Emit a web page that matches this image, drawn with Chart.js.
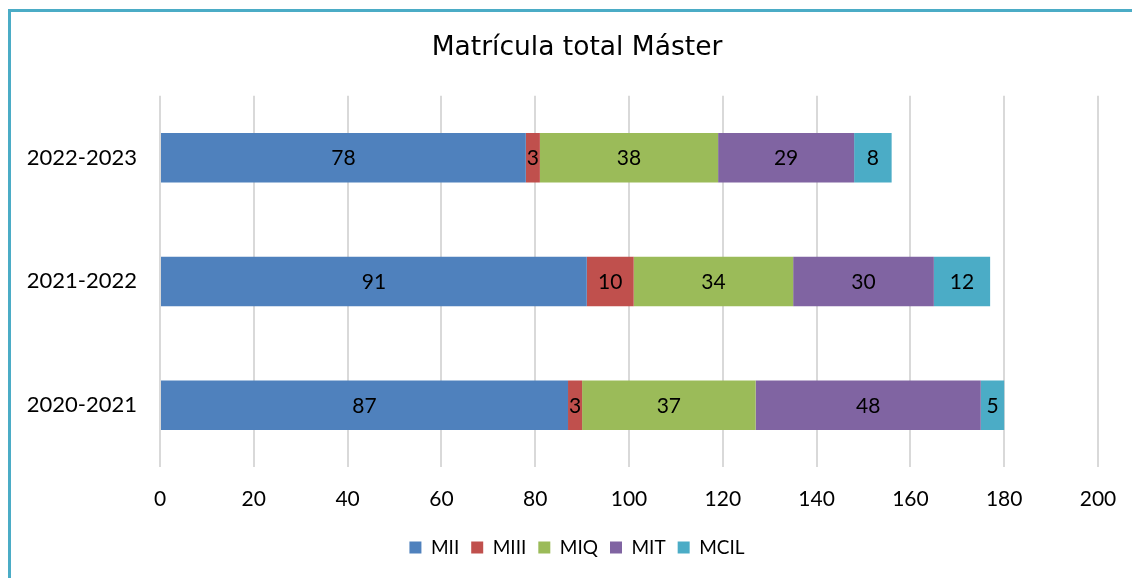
<!DOCTYPE html>
<html lang="es">
<head>
<meta charset="UTF-8">
<title>Matrícula total Máster</title>
<script src="https://cdn.jsdelivr.net/npm/chart.js@4/dist/chart.umd.min.js"></script>
<style>
  html, body { margin: 0; padding: 0; background: #fff; overflow: hidden; }
  .wrap { position: relative; width: 1132px; height: 578px; }
  #chart { position: absolute; left: 0; top: 0; }
  .frame {
    position: absolute; left: 8px; top: 9px; width: 1200px; height: 700px;
    border-left: 3px solid #4bacc6; border-top: 3px solid #4bacc6;
    pointer-events: none;
  }
</style>
</head>
<body>
<div class="wrap">
  <canvas id="chart" width="1132" height="578"></canvas>
  <div class="frame"></div>
</div>
<script>
// datos
const cursos = ['2022-2023', '2021-2022', '2020-2021'];
const mii  = [78, 91, 87];
const miii = [3, 10, 3];
const miq  = [38, 34, 37];
const mit  = [29, 30, 48];
const mcil = [8, 12, 5];
const ejeX = [0, 20, 40, 60, 80, 100, 120, 140, 160, 180, 200];

// etiquetas de valor en el centro de cada segmento
const etiquetas = {
  id: 'etiquetas',
  afterDatasetsDraw(chart) {
    const ctx = chart.ctx;
    ctx.save();
    ctx.font = '21px Lato';
    ctx.fillStyle = '#000';
    ctx.textAlign = 'center';
    ctx.textBaseline = 'middle';
    chart.data.datasets.forEach((ds, i) => {
      chart.getDatasetMeta(i).data.forEach((bar, j) => {
        const x = (bar.x + bar.base) / 2;
        ctx.fillText(ds.data[j], x, bar.y + 1);
      });
    });
    ctx.restore();
  }
};

new Chart(document.getElementById('chart'), {
  type: 'bar',
  data: {
    labels: cursos,
    datasets: [
      { label: 'MII', data: mii, backgroundColor: '#4f81bd' },
      { label: 'MIII', data: miii, backgroundColor: '#c0504d' },
      { label: 'MIQ', data: miq, backgroundColor: '#9bbb59' },
      { label: 'MIT', data: mit, backgroundColor: '#8064a2' },
      { label: 'MCIL', data: mcil, backgroundColor: '#4bacc6' }
    ]
  },
  options: {
    indexAxis: 'y',
    responsive: false,
    animation: false,
    categoryPercentage: 1,
    barPercentage: 0.4,
    layout: { padding: { left: 22, right: 0, top: 0, bottom: 11 } },
    scales: {
      x: {
        stacked: true,
        min: 0,
        max: 200,
        afterBuildTicks: s => { s.ticks = ejeX.map(v => ({ value: v })); },
        afterFit: s => { s.height = 59; s.paddingLeft = 0; s.paddingRight = 34; },
        grid: { color: '#d9d9d9', lineWidth: 2, drawTicks: false },
        border: { display: false },
        ticks: { padding: 20, color: '#000', font: { family: 'Lato', size: 21 } }
      },
      y: {
        stacked: true,
        afterFit: s => { s.width = 138; },
        grid: { display: false },
        border: { display: false },
        ticks: { padding: 15, color: '#000', font: { family: 'Lato', size: 22 } }
      }
    },
    plugins: {
      title: {
        display: true,
        text: 'Matrícula total Máster',
        color: '#000',
        font: { family: 'DejaVu Sans', size: 26.5, weight: 'normal' },
        padding: { top: 32, bottom: 32 }
      },
      legend: {
        position: 'bottom',
        labels: {
          boxWidth: 12,
          boxHeight: 12,
          padding: 12,
          color: '#000',
          font: { family: 'Lato', size: 19 }
        }
      },
      tooltip: { enabled: false }
    }
  },
  plugins: [etiquetas]
});
</script>
</body>
</html>
